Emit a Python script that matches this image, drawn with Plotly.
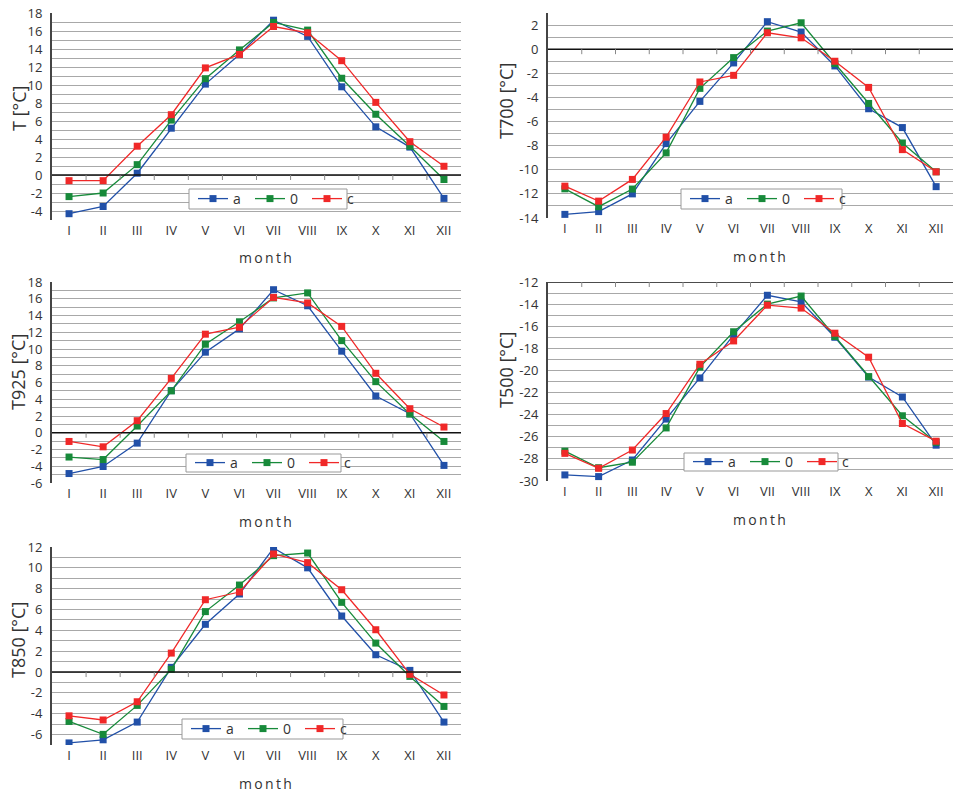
import plotly.graph_objects as go

months = ["I", "II", "III", "IV", "V", "VI", "VII", "VIII", "IX", "X", "XI", "XII"]
series_names = ["a", "0", "c"]

T_a = [-4.3, -3.5, 0.2, 5.2, 10.1, 13.4, 17.2, 15.4, 9.8, 5.35, 3.1, -2.6]
T_0 = [-2.4, -2.0, 1.15, 6.1, 10.7, 13.9, 16.95, 16.1, 10.75, 6.75, 3.2, -0.5]
T_c = [-0.63, -0.63, 3.2, 6.7, 11.9, 13.4, 16.5, 15.8, 12.7, 8.07, 3.7, 0.97]

T700_a = [-13.7, -13.47, -12.0, -7.83, -4.33, -1.14, 2.28, 1.42, -1.39, -4.94, -6.5, -11.4]
T700_0 = [-11.58, -13.06, -11.6, -8.6, -3.25, -0.7, 1.5, 2.19, -1.19, -4.5, -7.78, -10.17]
T700_c = [-11.36, -12.6, -10.8, -7.3, -2.72, -2.17, 1.36, 0.94, -1.0, -3.17, -8.33, -10.17]

T925_a = [-4.87, -4.03, -1.24, 5.03, 9.62, 12.4, 17.08, 15.16, 9.74, 4.39, 2.27, -3.9]
T925_0 = [-2.9, -3.2, 0.8, 5.0, 10.57, 13.25, 16.1, 16.7, 11.0, 6.1, 2.23, -1.04]
T925_c = [-1.04, -1.68, 1.44, 6.5, 11.77, 12.6, 16.16, 15.5, 12.7, 7.1, 2.87, 0.68]

T500_a = [-29.45, -29.6, -28.1, -24.4, -20.68, -16.78, -13.2, -13.8, -17.0, -20.6, -22.4, -26.76]
T500_0 = [-27.3, -28.8, -28.3, -25.2, -19.7, -16.5, -14.0, -13.27, -16.93, -20.56, -24.1, -26.5]
T500_c = [-27.5, -28.85, -27.2, -23.9, -19.44, -17.33, -14.1, -14.36, -16.63, -18.8, -24.8, -26.4]

T850_a = [-6.8, -6.5, -4.8, 0.45, 4.58, 7.49, 11.9, 10.0, 5.38, 1.66, 0.16, -4.8]
T850_0 = [-4.74, -5.98, -3.2, 0.26, 5.8, 8.35, 11.17, 11.42, 6.69, 2.78, -0.42, -3.3]
T850_c = [-4.2, -4.6, -2.85, 1.82, 6.94, 7.68, 11.33, 10.5, 7.9, 4.06, -0.22, -2.2]

colors = ["#2150a8", "#178a3a", "#f02828"]
W, H = 954, 794
FONT = "Open Sans"


def px_x(v):
    return v / W


def px_y(v):
    return 1 - v / H


# panel: (title, [series], yrange, x pixel span, y pixel span (top,bottom),
#         legend box px (x0,y0,x1,y1), axis-cross value, y-title centre px (x,y))
panels = [
    ("T [°C]", [T_a, T_0, T_c], [-5, 18], (52, 461), (13, 220), (189, 189, 347, 209), 0, (19, 109)),
    ("T700 [°C]", [T700_a, T700_0, T700_c], [-14, 3], (548, 953), (13, 218), (681, 189, 842, 209), 0, (506, 101)),
    ("T925 [°C]", [T925_a, T925_0, T925_c], [-6, 18], (52, 461), (282, 483), (186, 454, 341, 472), 0, (18, 372)),
    ("T500 [°C]", [T500_a, T500_0, T500_c], [-30, -12], (548, 953), (282, 481), (684, 453, 838, 471), -12, (506, 370)),
    ("T850 [°C]", [T850_a, T850_0, T850_c], [-7, 12], (52, 461), (547, 745), (182, 719, 343, 739), 0, (18, 640)),
]

fig = go.Figure()
layout = dict(
    width=W, height=H, margin=dict(l=0, r=0, t=0, b=0, autoexpand=False),
    paper_bgcolor="white", plot_bgcolor="white",
    font=dict(family=FONT, color="#333333", size=13),
    showlegend=True,
)
annotations = []
shapes = []

for i, (title, data, yr, xd, yd, lg, cross, tpos) in enumerate(panels):
    n = "" if i == 0 else str(i + 1)
    xa, ya = "x" + n, "y" + n
    lgname = "legend" + n
    for j, vals in enumerate(data):
        fig.add_trace(go.Scatter(
            x=months, y=vals, name=series_names[j], mode="lines+markers",
            line=dict(color=colors[j], width=1.3),
            marker=dict(symbol="square", size=7, color=colors[j]),
            xaxis=xa, yaxis=ya, legend=lgname,
        ))
    tvals = [v for v in range(yr[0], yr[1] + 1) if v % 2 == 0]
    layout["xaxis" + n] = dict(
        domain=[px_x(xd[0]), px_x(xd[1])], anchor=ya, type="category",
        categoryorder="array", categoryarray=months, range=[-0.5, 11.5],
        showgrid=False, showline=False, zeroline=False, ticks="",
        tickfont=dict(size=13, color="#333333"), ticklabelstandoff=1,
        automargin=False,
    )
    layout["yaxis" + n] = dict(
        domain=[px_y(yd[1]), px_y(yd[0])], anchor=xa, range=yr,
        tickmode="array", tickvals=tvals, ticktext=[str(v) for v in tvals],
        showgrid=True, gridcolor="#a8a8a8", gridwidth=1,
        minor=dict(dtick=1, tick0=0, showgrid=True, gridcolor="#a8a8a8", gridwidth=1),
        showline=True, linecolor="#444444", linewidth=2, ticks="",
        zeroline=False, tickfont=dict(size=13, color="#333333"),
        ticklabelstandoff=5, automargin=False, ticklabeloverflow="allow",
    )
    # legend box drawn as a shape, legend itself transparent on top
    shapes.append(dict(type="rect", xref="paper", yref="paper", layer="above",
                       x0=px_x(lg[0]), x1=px_x(lg[2]), y0=px_y(lg[3]), y1=px_y(lg[1]),
                       fillcolor="white", line=dict(color="#999999", width=1)))
    layout[lgname] = dict(
        orientation="h", x=px_x(lg[0] + 4), y=px_y((lg[1] + lg[3]) / 2),
        xanchor="left", yanchor="middle",
        bgcolor="rgba(0,0,0,0)", borderwidth=0,
        font=dict(size=14, color="#333333"), itemwidth=30, entrywidth=12,
        tracegroupgap=0, itemclick=False,
    )
    # horizontal axis crossing line
    shapes.append(dict(type="line", xref=xa + " domain", yref=ya, x0=0, x1=1,
                       y0=cross, y1=cross, line=dict(color="#111111", width=1.5)))
    # small tick marks at category boundaries on the crossing line
    for k in range(1, 12):
        shapes.append(dict(type="line", xref=xa, yref=ya, x0=k - 0.5, x1=k - 0.5,
                           ysizemode="pixel", yanchor=cross, y0=0, y1=-5,
                           line=dict(color="#888888", width=1)))
    # y title
    annotations.append(dict(text=title, xref="paper", yref="paper",
                            x=px_x(tpos[0]), y=px_y(tpos[1]),
                            textangle=-90, showarrow=False,
                            font=dict(size=18, color="#333333"),
                            xanchor="center", yanchor="middle"))
    # x title
    annotations.append(dict(text="m\u2009o\u2009n\u2009t\u2009h", xref="paper", yref="paper",
                            x=px_x((xd[0] + xd[1]) / 2 + 9), y=px_y(yd[1] + 38),
                            showarrow=False, font=dict(size=14, color="#333333"),
                            xanchor="center", yanchor="middle"))

layout["annotations"] = annotations
layout["shapes"] = shapes
fig.update_layout(**layout)
fig.write_html("out.html", config={"displayModeBar": False},
               post_script="document.body.style.margin='0';document.body.style.overflow='hidden';")
